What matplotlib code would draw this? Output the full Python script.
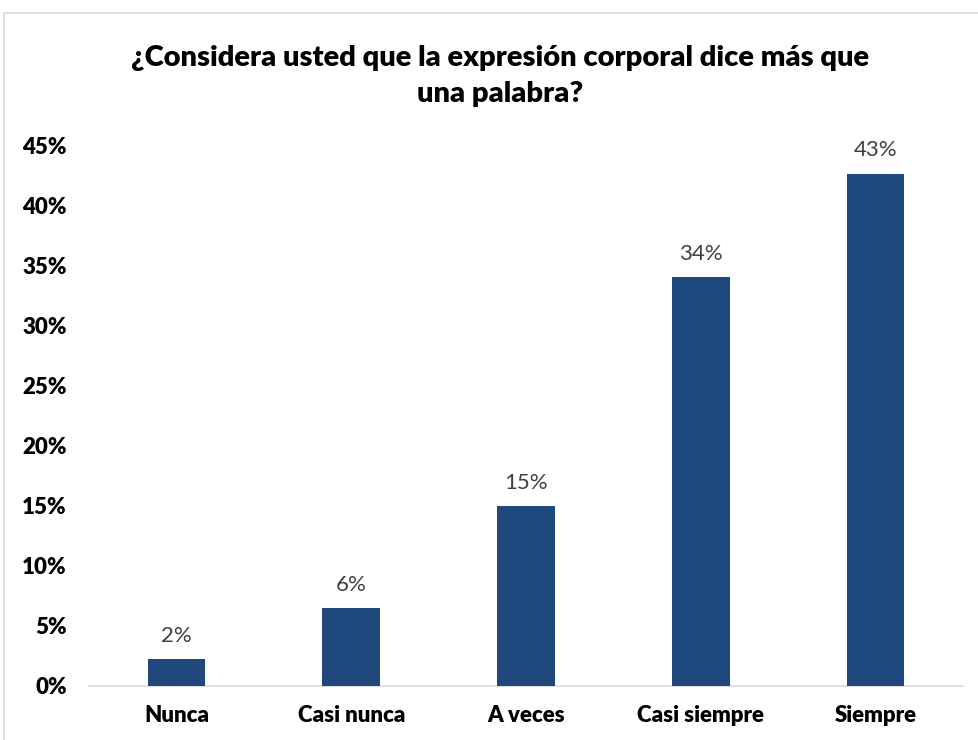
import matplotlib
matplotlib.use("Agg")
import matplotlib.pyplot as plt
from matplotlib.patches import Rectangle
from matplotlib.ticker import PercentFormatter

categories = ["Nunca", "Casi nunca", "A veces", "Casi siempre", "Siempre"]
values = [0.0225, 0.065, 0.15, 0.341, 0.427]
labels = ["2%", "6%", "15%", "34%", "43%"]
yticks = [0, 0.05, 0.10, 0.15, 0.20, 0.25, 0.30, 0.35, 0.40, 0.45]

plt.rcParams['font.family'] = ['Lato', 'DejaVu Sans']

W, H = 979, 740
fig = plt.figure(figsize=(W / 100, H / 100), dpi=100)
fig.patches.append(Rectangle((4 / W, -0.1), 1.2, (H - 13) / H + 0.1, transform=fig.transFigure,
                             fill=False, edgecolor="#d9d9d9", linewidth=1.2))

ax = fig.add_axes([89 / W, (H - 686) / H, (963 - 89) / W, (686 - 146) / H])
x = range(len(categories))
ax.bar(x, values, width=0.33, color="#1f497d", zorder=3)
for xi, v, lab in zip(x, values, labels):
    ax.text(xi, v + 0.011, lab, ha="center", va="bottom", fontsize=16, color="#404040")

ax.set_xlim(-0.5, len(categories) - 0.5)
ax.set_ylim(0, 0.45)
ax.set_yticks(yticks)
ax.yaxis.set_major_formatter(PercentFormatter(1.0, decimals=0))
ax.set_xticks(list(x))
ax.set_xticklabels(categories, fontsize=16, fontweight="heavy")
for t in ax.get_yticklabels():
    t.set_fontsize(16)
    t.set_fontweight("heavy")
ax.tick_params(axis="both", length=0, colors="black")
ax.tick_params(axis="x", pad=14)
ax.tick_params(axis="y", pad=16)
for s in ["top", "right", "left"]:
    ax.spines[s].set_visible(False)
ax.spines["bottom"].set_color("#d9d9d9")
ax.spines["bottom"].set_linewidth(1.2)

fig.text(500 / W, 1 - 76 / H, "¿Considera usted que la expresión corporal dice más que\nuna palabra?",
         ha="center", va="center", fontsize=21, fontweight="heavy", linespacing=1.45)

fig.savefig("out.png", dpi=100)
